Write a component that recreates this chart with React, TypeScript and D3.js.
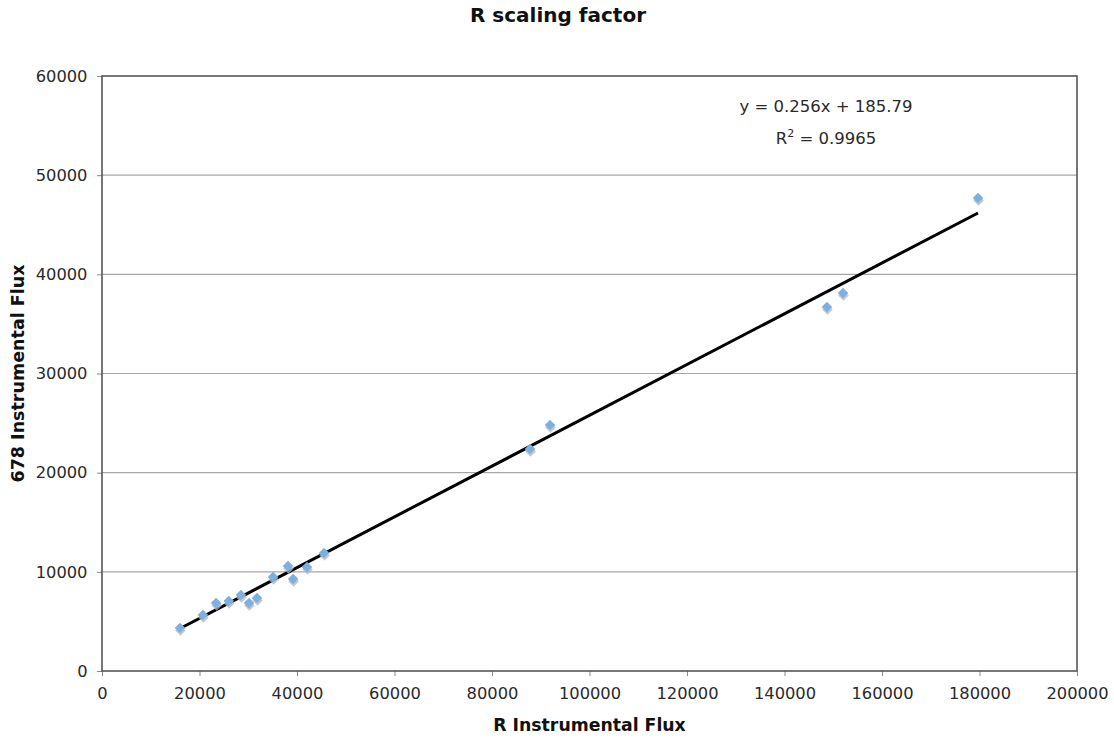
import React, { useEffect, useRef } from 'react';
import * as d3 from 'd3';

// R instrumental flux (x) vs 678 instrumental flux (y)
const rFlux = [16000, 20700, 23400, 26000, 28500, 30150, 31800, 35100, 38150, 39200, 42050, 45550, 87800, 91900, 148700, 152000, 179700];
const flux678 = [4330, 5650, 6860, 7060, 7660, 6860, 7360, 9480, 10590, 9280, 10490, 11900, 22390, 24800, 36700, 38120, 47700];

const xTicks = [0, 20000, 40000, 60000, 80000, 100000, 120000, 140000, 160000, 180000, 200000];
const yTicks = [0, 10000, 20000, 30000, 40000, 50000, 60000];

const slope = 0.256;
const intercept = 185.79;
const equationText = 'y = 0.256x + 185.79';
const rSquared = '0.9965';

const W = 1114, H = 738;
const FONT = '"DejaVu Sans", Verdana, sans-serif';

export default function App() {
  const node = useRef<SVGSVGElement | null>(null);

  useEffect(() => {
    const margin = { top: 76, right: 37, bottom: 67, left: 102 };
    const width = W - margin.left - margin.right,
          height = H - margin.top - margin.bottom;

    const svg = d3.select(node.current);
    svg.selectAll('*').remove();

    const xScale = d3.scaleLinear().domain([0, 200000]).range([0, width]);
    const yScale = d3.scaleLinear().domain([0, 60000]).range([height, 0]);

    const g = svg.append('g').attr('transform', `translate(${margin.left},${margin.top})`);

    // gridlines
    g.selectAll('.grid')
      .data(yTicks.filter(t => t > 0 && t < 60000))
      .enter()
      .append('line')
      .attr('x1', 0)
      .attr('x2', width)
      .attr('y1', d => yScale(d))
      .attr('y2', d => yScale(d))
      .attr('stroke', '#a6a6a6')
      .attr('stroke-width', 1.2);

    // axes
    const xAxis = d3.axisBottom(xScale).tickValues(xTicks).tickSize(5).tickFormat(d => String(d));
    const yAxis = d3.axisLeft(yScale).tickValues(yTicks).tickSize(5).tickFormat(d => String(d));

    const gx = g.append('g').attr('transform', `translate(0,${height})`).call(xAxis);
    const gy = g.append('g').call(yAxis);
    [gx, gy].forEach(a => {
      a.select('.domain').remove();
      a.selectAll('line').attr('stroke', '#888').attr('stroke-width', 1);
      a.selectAll('text')
        .attr('font-family', FONT)
        .attr('font-size', 16.3)
        .attr('fill', '#2a2a2a');
    });
    gx.selectAll('text').attr('dy', '1.25em');
    gy.selectAll('text').attr('dx', '-0.4em');

    // plot border
    g.append('rect')
      .attr('width', width)
      .attr('height', height)
      .attr('fill', 'none')
      .attr('stroke', '#555')
      .attr('stroke-width', 1.6);

    // trend line
    const xMin = d3.min(rFlux) as number, xMax = d3.max(rFlux) as number;
    g.append('line')
      .attr('x1', xScale(xMin))
      .attr('y1', yScale(slope * xMin + intercept))
      .attr('x2', xScale(xMax))
      .attr('y2', yScale(slope * xMax + intercept))
      .attr('stroke', '#000')
      .attr('stroke-width', 3);

    // markers (diamonds with a soft shadow)
    const pts = rFlux.map((x, i) => ({ x, y: flux678[i] }));
    const diamond = d3.symbol().type(d3.symbolSquare).size(56);
    g.selectAll('.shadow')
      .data(pts)
      .enter()
      .append('path')
      .attr('d', diamond)
      .attr('transform', d => `translate(${xScale(d.x) + 0.5},${yScale(d.y) + 2.5}) rotate(45)`)
      .attr('fill', '#b5b5b5')
      .attr('opacity', 0.75);
    g.selectAll('.pt')
      .data(pts)
      .enter()
      .append('path')
      .attr('d', diamond)
      .attr('transform', d => `translate(${xScale(d.x)},${yScale(d.y)}) rotate(45)`)
      .attr('fill', '#7cb0e0');

    // equation
    g.append('text')
      .attr('x', 724)
      .attr('y', 36)
      .attr('text-anchor', 'middle')
      .attr('font-family', FONT)
      .attr('font-size', 16.5)
      .attr('fill', '#2a2a2a')
      .text(equationText);
    const r2 = g.append('text')
      .attr('x', 724)
      .attr('y', 68)
      .attr('text-anchor', 'middle')
      .attr('font-family', FONT)
      .attr('font-size', 16.5)
      .attr('fill', '#2a2a2a');
    r2.append('tspan').text('R');
    r2.append('tspan').attr('dy', -7).attr('font-size', 11).text('2');
    r2.append('tspan').attr('dy', 7).text(` = ${rSquared}`);

    // titles
    svg.append('text')
      .attr('x', 558)
      .attr('y', 22)
      .attr('text-anchor', 'middle')
      .attr('font-family', FONT)
      .attr('font-weight', 'bold')
      .attr('font-size', 20)
      .attr('fill', '#111')
      .text('R scaling factor');

    svg.append('text')
      .attr('x', margin.left + width / 2)
      .attr('y', 731)
      .attr('text-anchor', 'middle')
      .attr('font-family', FONT)
      .attr('font-weight', 'bold')
      .attr('font-size', 17.3)
      .attr('fill', '#111')
      .text('R Instrumental Flux');

    svg.append('text')
      .attr('transform', `translate(24,${margin.top + height / 2}) rotate(-90)`)
      .attr('text-anchor', 'middle')
      .attr('font-family', FONT)
      .attr('font-weight', 'bold')
      .attr('font-size', 17.5)
      .attr('fill', '#111')
      .text('678 Instrumental Flux');
  }, []);

  return (
    <svg
      ref={node}
      width={W}
      height={H}
      style={{ position: 'absolute', left: 0, top: 0, background: '#fff' }}
    />
  );
}
